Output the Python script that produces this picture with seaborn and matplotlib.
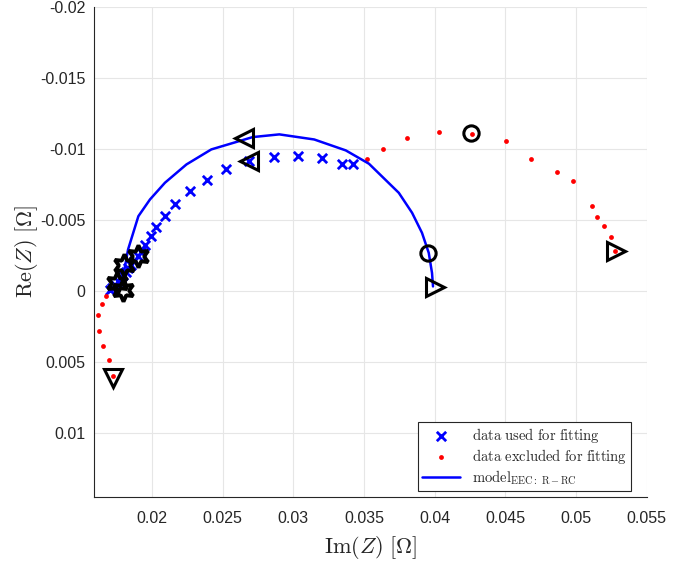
import numpy as np
import pandas as pd
import matplotlib
matplotlib.use("Agg")
import matplotlib.pyplot as plt
import seaborn as sns

# data used for fitting (blue x)
fit_re = [0.03422, 0.03343, 0.03206, 0.03035, 0.02861, 0.02690, 0.02526, 0.02392,
          0.02270, 0.02162, 0.02092, 0.02026, 0.01991, 0.01951, 0.01923, 0.01898,
          0.01873, 0.01852, 0.01831, 0.01813, 0.01796, 0.01778, 0.01761, 0.01739,
          0.01718, 0.01704]
fit_im = [-0.00890, -0.00895, -0.00937, -0.00953, -0.00944, -0.00913, -0.00859, -0.00779,
          -0.00701, -0.00612, -0.00525, -0.00450, -0.00388, -0.00325, -0.00275, -0.00244,
          -0.00212, -0.00184, -0.00159, -0.00134, -0.00113, -0.00088, -0.00067, -0.00042,
          -0.00021, -0.00004]

# data excluded for fitting (red dots)
excl_re = [0.01676, 0.01646, 0.01620, 0.01627, 0.01657, 0.01695, 0.01727,
           0.03519, 0.03634, 0.03805, 0.04030, 0.04263, 0.04507, 0.04683, 0.04868,
           0.04979, 0.05110, 0.05150, 0.05197, 0.05244, 0.05272]
excl_im = [0.00035, 0.00092, 0.00174, 0.00285, 0.00391, 0.00492, 0.00605,
           -0.00925, -0.00998, -0.01077, -0.01118, -0.01102, -0.01054, -0.00930, -0.00840,
           -0.00770, -0.00595, -0.00516, -0.00457, -0.00376, -0.00283]

# model EEC: R-RC
model_re = [0.01803, 0.01831, 0.01904, 0.01986, 0.02092, 0.02244, 0.02420, 0.02713,
            0.02901, 0.03148, 0.03371, 0.03535, 0.03746, 0.03840, 0.03910, 0.03958,
            0.03981, 0.03988]
model_im = [-0.00134, -0.00290, -0.00525, -0.00643, -0.00761, -0.00890, -0.00996, -0.01083,
            -0.01102, -0.01066, -0.00989, -0.00895, -0.00690, -0.00549, -0.00408, -0.00266,
            -0.00125, -0.00030]

# black frequency markers (data / model pairs)
mark_re = [0.02648, 0.02683, 0.04260, 0.03951, 0.05282, 0.04000, 0.01725,
           0.01799, 0.01901, 0.01754, 0.01796]
mark_im = [-0.01073, -0.00911, -0.01109, -0.00268, -0.00283, -0.00028, 0.00614,
           -0.00184, -0.00244, -0.00053, -0.00007]
mark_shape = ["<", "<", "o", "o", ">", ">", "v", "hex", "hex", "hex", "hex"]

x_ticks = [0.02, 0.025, 0.03, 0.035, 0.04, 0.045, 0.05, 0.055]
x_ticklabels = ["0.02", "0.025", "0.03", "0.035", "0.04", "0.045", "0.05", "0.055"]
y_ticks = [-0.02, -0.015, -0.01, -0.005, 0, 0.005, 0.01]
y_ticklabels = ["-0.02", "-0.015", "-0.01", "-0.005", "0", "0.005", "0.01"]

sns.set_style("whitegrid")
plt.rcParams["font.family"] = ["Liberation Sans", "DejaVu Sans"]
plt.rcParams["mathtext.fontset"] = "cm"

fig = plt.figure(figsize=(6.91, 5.61), dpi=100)
ax = fig.add_axes([0.136, 0.114, 0.800, 0.8735])

df_fit = pd.DataFrame({"re": fit_re, "im": fit_im})
df_excl = pd.DataFrame({"re": excl_re, "im": excl_im})
df_model = pd.DataFrame({"re": model_re, "im": model_im})

sns.scatterplot(data=df_fit, x="re", y="im", marker="x", color="blue", s=45,
                linewidth=2, ax=ax, label=r"$\mathrm{data\ used\ for\ fitting}$", zorder=3)
sns.scatterplot(data=df_excl, x="re", y="im", marker="o", color="red", s=12,
                linewidth=0, ax=ax, label=r"$\mathrm{data\ excluded\ for\ fitting}$", zorder=3)
sns.lineplot(data=df_model, x="re", y="im", sort=False, estimator=None, color="blue",
             linewidth=1.8, ax=ax, label=r"$\mathrm{model}_{\mathrm{EEC:\ R-RC}}$", zorder=4)

# black open markers
marker_map = {"<": "<", ">": ">", "v": "v", "o": "o", "hex": (6, 1, 0)}
size_map = {"<": 13, ">": 13, "v": 13, "o": 11, "hex": 16}
width_map = {"<": 2.2, ">": 2.2, "v": 2.2, "o": 2.2, "hex": 2.8}
for xr, yi, sh in zip(mark_re, mark_im, mark_shape):
    ax.plot(xr, yi, linestyle="none", marker=marker_map[sh], markersize=size_map[sh],
            markerfacecolor="none", markeredgecolor="black",
            markeredgewidth=width_map[sh], zorder=5)

ax.set_xlim(0.0159, 0.055)
ax.set_ylim(0.01455, -0.02)
ax.set_xticks(x_ticks)
ax.set_xticklabels(x_ticklabels)
ax.set_yticks(y_ticks)
ax.set_yticklabels(y_ticklabels)
ax.tick_params(direction="in", length=4, width=0.6, colors="#262626", labelsize=11.5,
               pad=10)
ax.tick_params(axis="y", pad=6)
ax.grid(True, color="#e6e6e6", linewidth=0.8)
for side in ["top", "right"]:
    ax.spines[side].set_visible(False)
for side in ["left", "bottom"]:
    ax.spines[side].set_color("#262626")
    ax.spines[side].set_linewidth(0.8)

ax.set_xlabel(r"$\mathrm{Im}(Z)\ [\Omega]$", fontsize=16)
ax.set_ylabel(r"$\mathrm{Re}(Z)\ [\Omega]$", fontsize=16)
ax.xaxis.set_label_coords(0.5, -0.075)
ax.yaxis.set_label_coords(-0.098, 0.5)

leg = ax.legend(loc="lower right", bbox_to_anchor=(0.972, 0.012), fontsize=10.5,
                fancybox=False, framealpha=1, edgecolor="#262626", borderpad=0.3,
                handlelength=2.6, labelspacing=0.15, borderaxespad=0)
leg.get_frame().set_linewidth(0.8)

fig.savefig("out.png", dpi=100)
